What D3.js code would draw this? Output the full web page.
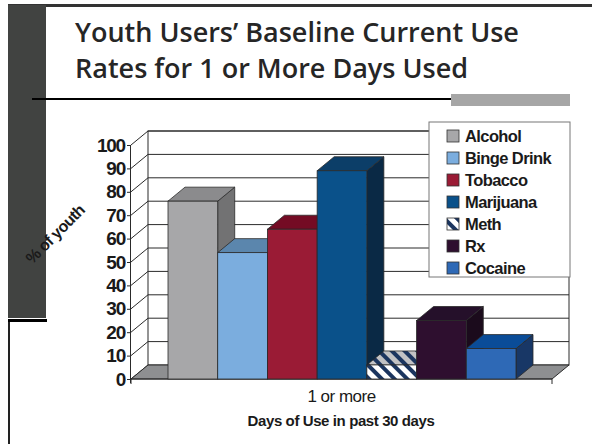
<!DOCTYPE html>
<html>
<head>
<meta charset="utf-8">
<script src="https://cdn.jsdelivr.net/npm/d3@7"></script>
<style>
  body { margin: 0; background: #fff; }
  svg { display: block; }
</style>
</head>
<body>
<div id="chart"></div>
<script>
// data
const categories = ["1 or more"]
const series = ["Alcohol", "Binge Drink", "Tobacco", "Marijuana", "Meth", "Rx", "Cocaine"]
const values = [76, 54, 64, 89, 6, 25, 13]
const yTicks = [0, 10, 20, 30, 40, 50, 60, 70, 80, 90, 100]

// face colours: front, top, side
const colors = {
    "Alcohol":     ["#a7a7a9", "#8b8b8d", "#727273"],
    "Binge Drink": ["#7badde", "#5b86ad", "#4d7096"],
    "Tobacco":     ["#9a1b35", "#740b24", "#5e0a1e"],
    "Marijuana":   ["#0a518a", "#0c3e68", "#0a2945"],
    "Meth":        ["url(#hatch)", "url(#hatchTop)", "#1a3560"],
    "Rx":          ["#2e0f2f", "#25102a", "#1b0b1c"],
    "Cocaine":     ["#2e69b6", "#0a4c98", "#183766"]
}

const W = 592, H = 444
const DX = 17, DY = -14      // depth of the 3d box

const svg = d3.select("#chart").append("svg")
    .attr("width", W)
    .attr("height", H)

const defs = svg.append("defs")
function makeHatch(id, bg) {
    const p = defs.append("pattern")
        .attr("id", id)
        .attr("patternUnits", "userSpaceOnUse")
        .attr("width", 9).attr("height", 9)
        .attr("patternTransform", "rotate(-45)")
    p.append("rect").attr("width", 9).attr("height", 9).attr("fill", bg)
    p.append("rect").attr("width", 4).attr("height", 9).attr("fill", "#1b355f")
}
makeHatch("hatch", "#fff")
makeHatch("hatchTop", "#c2c2c4")

//------------------------------ slide decoration ------------------------------
svg.append("rect").attr("x", 8).attr("y", 4).attr("width", W - 8).attr("height", 3).attr("fill", "#333")
svg.append("rect").attr("x", 8).attr("y", 5).attr("width", 38).attr("height", 313).attr("fill", "#414341")
svg.append("rect").attr("x", 8).attr("y", 319).attr("width", 39).attr("height", 3).attr("fill", "#000")
svg.append("rect").attr("x", 8).attr("y", 322).attr("width", 2).attr("height", H - 322).attr("fill", "#222")
svg.append("rect").attr("x", 32).attr("y", 98).attr("width", 419).attr("height", 2).attr("fill", "#000")
svg.append("rect").attr("x", 451).attr("y", 94).attr("width", 119).attr("height", 12).attr("fill", "#a6a6a6")

const titleLines = ["Youth Users\u2019 Baseline Current Use", "Rates for 1 or More Days Used"]
svg.selectAll("text.title")
    .data(titleLines)
    .join("text")
    .attr("class", "title")
    .attr("x", 75).attr("y", (d, i) => 42 + i * 36)
    .style("font-family", "'Open Sans', sans-serif")
    .style("font-weight", 600)
    .style("font-size", "27px")
    .attr("fill", "#262626")
    .text(d => d)

//------------------------------ scales ------------------------------
const y = d3.scaleLinear().domain([0, 100]).range([379, 145])
const xCat = d3.scaleBand().domain(categories).range([131, 552])
const xSer = d3.scaleBand().domain(series)
    .range([xCat(categories[0]) + 37, xCat(categories[0]) + xCat.bandwidth() - 36])

const x0 = xCat.range()[0], x1 = xCat.range()[1]
const stroke = "#2a2a2a"

// back wall
svg.append("rect")
    .attr("x", x0 + DX).attr("y", y(100) + DY)
    .attr("width", x1 - x0).attr("height", y(0) - y(100))
    .attr("fill", "#fff").attr("stroke", stroke).attr("stroke-width", 1)

// gridlines on back wall + side wall
const grid = svg.append("g")
grid.selectAll("line.back")
    .data(yTicks.filter(d => d > 0))
    .join("line")
    .attr("class", "back")
    .attr("x1", x0 + DX).attr("x2", x1 + DX)
    .attr("y1", d => y(d) + DY).attr("y2", d => y(d) + DY)
    .attr("stroke", stroke).attr("stroke-width", 1)
grid.selectAll("line.side")
    .data(yTicks)
    .join("line")
    .attr("class", "side")
    .attr("x1", x0).attr("x2", x0 + DX)
    .attr("y1", d => y(d)).attr("y2", d => y(d) + DY)
    .attr("stroke", stroke).attr("stroke-width", 1)

// floor
svg.append("polygon")
    .attr("points", [[x0, y(0)], [x0 + DX, y(0) + DY], [x1 + DX, y(0) + DY], [x1, y(0)]].join(" "))
    .attr("fill", "#8e8f91").attr("stroke", stroke).attr("stroke-width", 1)

// y axis
const yAxis = svg.append("g")
    .attr("transform", `translate(${x0},0)`)
    .call(d3.axisLeft(y).tickValues(yTicks).tickSize(4).tickPadding(2))
yAxis.select(".domain").attr("stroke", stroke).attr("d", `M-0.5,${y(100)}V${y(0) + 4}`)
yAxis.selectAll(".tick line").attr("stroke", stroke)
yAxis.selectAll("text")
    .attr("fill", "#1a1a1a")
    .style("font-family", "'Liberation Sans', Arial, sans-serif")
    .style("font-weight", "bold")
    .style("font-size", "19px")
    .style("letter-spacing", "-1.2px")

// x axis
const xAxis = svg.append("g")
    .attr("transform", `translate(0,${y(0)})`)
    .call(d3.axisBottom(xCat).tickSize(0).tickPadding(11))
xAxis.select(".domain").attr("stroke", stroke).attr("d", `M${x0},5V0H${x1}V5`)
xAxis.selectAll("text")
    .attr("fill", "#1a1a1a")
    .style("font-family", "'Liberation Sans', Arial, sans-serif")
    .style("font-size", "17px")
    .style("letter-spacing", "-0.5px")

//------------------------------ bars ------------------------------
const bars = svg.append("g")
series.forEach((s, i) => {
    const bx = xSer(s), bw = xSer.bandwidth()
    const top = y(values[i]), base = y(0)
    const g = bars.append("g")
    // side
    g.append("polygon")
        .attr("points", [[bx + bw, top], [bx + bw + DX, top + DY], [bx + bw + DX, base + DY], [bx + bw, base]].join(" "))
        .attr("fill", colors[s][2]).attr("stroke", stroke).attr("stroke-width", 0.8)
    // top
    g.append("polygon")
        .attr("points", [[bx, top], [bx + DX, top + DY], [bx + bw + DX, top + DY], [bx + bw, top]].join(" "))
        .attr("fill", colors[s][1]).attr("stroke", stroke).attr("stroke-width", 0.8)
    // front
    g.append("rect")
        .attr("x", bx).attr("y", top)
        .attr("width", bw).attr("height", base - top)
        .attr("fill", colors[s][0]).attr("stroke", stroke).attr("stroke-width", 0.8)
})

//------------------------------ axis titles ------------------------------
svg.append("text")
    .attr("transform", "translate(59,238) rotate(-45)")
    .attr("text-anchor", "middle")
    .style("font-family", "'Liberation Sans', Arial, sans-serif")
    .style("font-weight", "bold")
    .style("font-size", "16px")
    .style("letter-spacing", "-0.6px")
    .attr("fill", "#1a1a1a")
    .text("% of youth")

svg.append("text")
    .attr("x", 341).attr("y", 426)
    .attr("text-anchor", "middle")
    .style("font-family", "'Liberation Sans', Arial, sans-serif")
    .style("font-weight", "bold")
    .style("font-size", "15px")
    .style("letter-spacing", "-0.4px")
    .attr("fill", "#1a1a1a")
    .text("Days of Use in past 30 days")

//------------------------------ legend ------------------------------
const legend = svg.append("g").attr("transform", "translate(429,122)")
legend.append("rect")
    .attr("width", 141).attr("height", 155)
    .attr("fill", "#fff").attr("stroke", "#777").attr("stroke-width", 1)
const items = legend.selectAll("g.item")
    .data(series)
    .join("g")
    .attr("class", "item")
    .attr("transform", (d, i) => `translate(18,${14 + i * 22})`)
items.append("rect")
    .attr("x", 0).attr("y", -6)
    .attr("width", 12).attr("height", 12)
    .attr("fill", d => colors[d][0])
    .attr("stroke", "#333").attr("stroke-width", 0.8)
items.append("text")
    .attr("x", 18).attr("y", 6)
    .style("font-family", "'Liberation Sans', Arial, sans-serif")
    .style("font-weight", "bold")
    .style("font-size", "16.5px")
    .style("letter-spacing", "-0.6px")
    .attr("fill", "#1a1a1a")
    .text(d => d)
</script>
</body>
</html>
